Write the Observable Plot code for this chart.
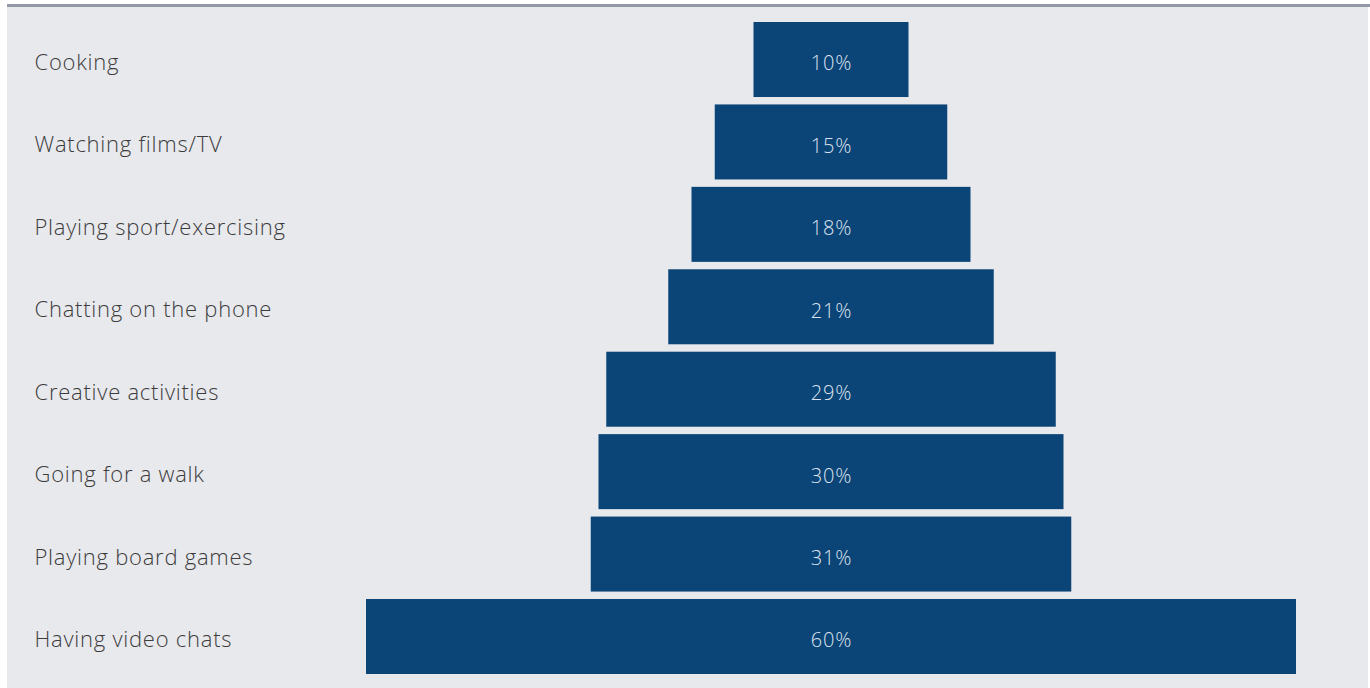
<!DOCTYPE html>
<html><head><meta charset="utf-8">
<script src="https://cdn.jsdelivr.net/npm/d3@7"></script>
<script src="https://cdn.jsdelivr.net/npm/@observablehq/plot@0.6"></script>
<style>
html,body{margin:0;padding:0;background:#ffffff;width:1370px;height:688px;overflow:hidden;}
#wrap{position:relative;width:1370px;height:688px;}
#panel{position:absolute;left:7px;top:6px;width:1361px;height:682px;background:#e8e9ed;}
#topline{position:absolute;left:7px;top:4px;width:1363px;height:3px;background:#9299a6;}
#chart{position:absolute;left:0;top:0;}
</style>
</head><body>
<div id="wrap"><div id="panel"></div><div id="topline"></div><div id="chart"></div></div>
<script>
const categories = ["Cooking","Watching films/TV","Playing sport/exercising","Chatting on the phone","Creative activities","Going for a walk","Playing board games","Having video chats"];
const values = [10,15,18,21,29,30,31,60];
const valueLabels = ["10%","15%","18%","21%","29%","30%","31%","60%"];

const rows = categories.map((c,i)=>({cat:c, v:values[i], label:valueLabels[i]}));

const chart = Plot.plot({
  width:1370, height:688,
  marginLeft:0, marginRight:0, marginTop:0, marginBottom:0,
  style:{background:"transparent", fontFamily:"'Open Sans', sans-serif"},
  x:{domain:[-30,30], range:[366,1296], axis:null},
  y:{domain:categories, range:[18.3,677.7], paddingInner:0.09, paddingOuter:0.045, round:false, axis:null},
  marks:[
    Plot.barX(rows,{y:"cat", x1:d=>-d.v/2, x2:d=>d.v/2, fill:"#0b4477"}),
    Plot.text(rows,{y:"cat", x:0, text:"label", fill:"#dde3ee", fontSize:20, fontWeight:300, dy:4}),
    Plot.text(rows,{y:"cat", text:"cat", frameAnchor:"left", dx:34, textAnchor:"start", fill:"#3c3c3c", fontSize:22, fontWeight:300, dy:3})
  ]
});
chart.querySelectorAll("text").forEach(t=>{
  if (categories.includes(t.textContent)) t.style.letterSpacing = "0.75px";
  else t.style.letterSpacing = "0.8px";
});
document.getElementById("chart").appendChild(chart);
</script>
</body></html>
